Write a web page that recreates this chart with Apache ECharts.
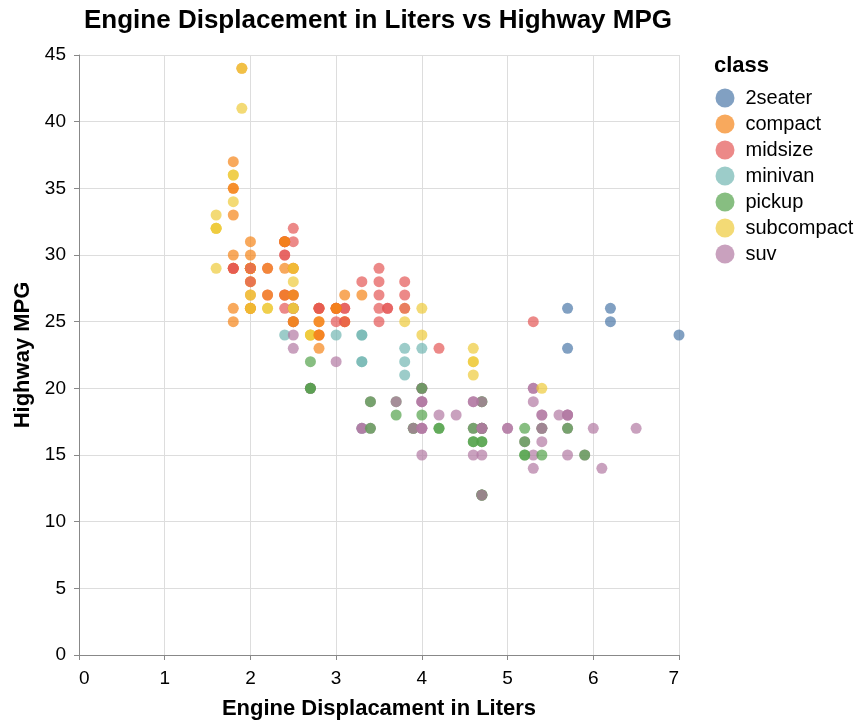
<!DOCTYPE html>
<html>
<head>
<meta charset="utf-8">
<script src="https://cdn.jsdelivr.net/npm/echarts@6.0.0/dist/echarts.min.js"></script>
<style>
	html, body { margin: 0; padding: 0; background: #fff; }
	#chart { width: 864px; height: 728px; }
</style>
</head>
<body>
<div id="chart"></div>
<script>
let classNames = ["2seater", "compact", "midsize", "minivan", "pickup", "subcompact", "suv"];
let classColors = ["#4c78a8", "#f58518", "#e45756", "#72b7b2", "#54a24b", "#eeca3b", "#b279a2"];

// one entry per car, in data order (class = index into classNames)
let displ = [
	1.8, 1.8, 2.0, 2.0, 2.8, 2.8, 3.1, 1.8, 1.8, 2.0, 2.0, 2.8, 2.8, 3.1, 3.1,
	2.8, 3.1, 4.2,
	5.3, 5.3, 5.3, 5.7, 6.0,
	5.7, 5.7, 6.2, 6.2, 7.0,
	5.3, 5.3, 5.7, 6.5,
	2.4, 2.4, 3.1, 3.5, 3.6,
	2.4, 3.0, 3.3, 3.3, 3.3, 3.3, 3.3, 3.8, 3.8, 3.8, 4.0,
	3.7, 3.7, 3.9, 3.9, 4.7, 4.7, 4.7, 5.2, 5.2,
	3.9, 4.7, 4.7, 4.7, 5.2, 5.7, 5.9,
	4.7, 4.7, 4.7, 4.7, 4.7, 4.7, 5.2, 5.2, 5.7, 5.9,
	4.6, 5.4, 5.4, 4.0, 4.0, 4.0, 4.0, 4.6, 5.0,
	4.2, 4.2, 4.6, 4.6, 4.6, 5.4, 5.4,
	3.8, 3.8, 4.0, 4.0, 4.6, 4.6, 4.6, 4.6, 5.4, 1.6, 1.6, 1.6, 1.6, 1.6, 1.8, 1.8, 1.8, 2.0,
	2.4, 2.4, 2.4, 2.4, 2.5, 2.5, 3.3,
	2.0, 2.0, 2.0, 2.0, 2.7, 2.7, 2.7,
	3.0, 3.7, 4.0, 4.7, 4.7, 4.7, 5.7, 6.1, 4.0, 4.2, 4.4, 4.6, 5.4, 5.4, 5.4, 4.0, 4.0, 4.6, 5.0,
	2.4, 2.4,
	2.5, 2.5, 3.5, 3.5, 3.0, 3.0, 3.5,
	3.3, 3.3, 4.0, 5.6,
	3.1, 3.8, 3.8, 3.8, 5.3,
	2.5, 2.5, 2.5, 2.5, 2.5, 2.5,
	2.2, 2.2, 2.5, 2.5,
	2.5, 2.5, 2.5, 2.5,
	2.7, 2.7, 3.4, 3.4, 4.0, 4.7,
	2.2, 2.2, 2.4, 2.4, 3.0, 3.0, 3.5,
	2.2, 2.2, 2.4, 2.4, 3.0, 3.0, 3.3, 1.8, 1.8, 1.8, 1.8, 1.8,
	4.7, 5.7,
	2.7, 2.7, 2.7, 3.4, 3.4, 4.0, 4.0,
	2.0, 2.0, 2.0, 2.0, 2.8, 1.9, 2.0, 2.0, 2.0, 2.0, 2.5, 2.5, 2.8, 2.8,
	1.9, 1.9, 2.0, 2.0, 2.5, 2.5,
	1.8, 1.8, 2.0, 2.0, 2.8, 2.8, 3.6,
];
let hwy = [
	29, 29, 31, 30, 26, 26, 27, 26, 25, 28, 27, 25, 25, 25, 25,
	24, 25, 23,
	20, 15, 20, 17, 17,
	26, 23, 26, 25, 24,
	19, 14, 15, 17,
	27, 30, 26, 29, 26,
	24, 24, 22, 22, 24, 24, 17, 22, 21, 23, 23,
	19, 18, 17, 17, 19, 19, 12, 17, 15,
	17, 17, 12, 17, 16, 18, 15,
	16, 12, 17, 17, 16, 12, 15, 16, 17, 15,
	17, 17, 18, 17, 19, 17, 19, 19, 17,
	17, 17, 16, 16, 17, 15, 17,
	26, 25, 26, 24, 21, 22, 23, 22, 20, 33, 32, 32, 29, 32, 34, 36, 36, 29,
	26, 27, 30, 31, 26, 26, 28,
	26, 29, 28, 27, 24, 24, 24,
	22, 19, 20, 17, 12, 19, 18, 14, 15, 18, 18, 15, 17, 16, 18, 17, 19, 19, 17,
	29, 27,
	31, 32, 27, 26, 26, 25, 25,
	17, 17, 20, 18,
	26, 26, 27, 28, 25,
	25, 24, 27, 25, 26, 23,
	26, 26, 26, 26,
	25, 27, 25, 27,
	20, 20, 19, 17, 20, 17,
	29, 27, 31, 31, 26, 26, 28,
	27, 29, 31, 31, 26, 26, 27, 30, 33, 35, 37, 35,
	15, 18,
	20, 20, 22, 17, 19, 18, 20,
	29, 26, 29, 29, 24, 44, 29, 26, 29, 29, 29, 29, 23, 24,
	44, 41, 29, 26, 28, 29,
	29, 29, 28, 29, 26, 26, 26,
];
let carClass = [
	1, 1, 1, 1, 1, 1, 1, 1, 1, 1, 1, 1, 1, 1, 1,
	2, 2, 2,
	6, 6, 6, 6, 6,
	0, 0, 0, 0, 0,
	6, 6, 6, 6,
	2, 2, 2, 2, 2,
	3, 3, 3, 3, 3, 3, 3, 3, 3, 3, 3,
	4, 4, 4, 4, 4, 4, 4, 4, 4,
	6, 6, 6, 6, 6, 6, 6,
	4, 4, 4, 4, 4, 4, 4, 4, 4, 4,
	6, 6, 6, 6, 6, 6, 6, 6, 6,
	4, 4, 4, 4, 4, 4, 4,
	5, 5, 5, 5, 5, 5, 5, 5, 5, 5, 5, 5, 5, 5, 5, 5, 5, 5,
	2, 2, 2, 2, 2, 2, 2,
	5, 5, 5, 5, 5, 5, 5,
	6, 6, 6, 6, 6, 6, 6, 6, 6, 6, 6, 6, 6, 6, 6, 6, 6, 6, 6,
	1, 1,
	2, 2, 2, 2, 2, 2, 2,
	6, 6, 6, 6,
	2, 2, 2, 2, 2,
	6, 6, 6, 6, 6, 6,
	5, 5, 5, 5,
	1, 1, 1, 1,
	6, 6, 6, 6, 6, 6,
	2, 2, 2, 2, 2, 2, 2,
	1, 1, 1, 1, 1, 1, 1, 1, 1, 1, 1, 1,
	6, 6,
	4, 4, 4, 4, 4, 4, 4,
	1, 1, 1, 1, 1, 1, 1, 1, 1, 1, 1, 1, 1, 1,
	5, 5, 5, 5, 5, 5,
	2, 2, 2, 2, 2, 2, 2,
];

let echarts = window.echarts;
let myChart = echarts.init(document.getElementById("chart"));
let font = "'Liberation Sans', Arial, sans-serif";

let points = displ.map((d, i) => [d, hwy[i], carClass[i]]);

// empty series only to give the legend its entries
let legendSeries = classNames.map((name, i) => {
	return {
		name: name,
		type: "scatter",
		data: [],
		itemStyle: { color: classColors[i], opacity: 0.7 },
	};
});

let option = {
	animation: false,
	textStyle: { fontFamily: font },
	title: {
		text: "Engine Displacement in Liters vs Highway MPG",
		left: 373,
		top: 3,
		textAlign: "center",
		textStyle: { fontSize: 26, fontWeight: "bold", color: "#000", fontFamily: font },
	},
	grid: {
		left: 79,
		right: 185,
		top: 55,
		bottom: 73,
		outerBoundsMode: "none",
		containLabel: false,
	},
	legend: {
		orient: "vertical",
		left: 715.5,
		top: 88,
		padding: 0,
		icon: "circle",
		itemWidth: 19,
		itemHeight: 19,
		itemGap: 6,
		data: classNames,
		textStyle: { fontSize: 20, color: "#000", fontFamily: font, padding: [0, 0, 0, 6] },
	},
	graphic: [
		{
			type: "text",
			left: 714,
			top: 55,
			style: { text: "class", fontSize: 22, fontWeight: "bold", fill: "#000", fontFamily: font },
		},
	],
	xAxis: {
		type: "value",
		min: 0,
		max: 7,
		interval: 1,
		name: "Engine Displacament in Liters",
		nameLocation: "middle",
		nameGap: 43,
		nameTextStyle: { fontSize: 22, fontWeight: "bold", color: "#000", fontFamily: font },
		axisLine: { show: true, lineStyle: { color: "#888" } },
		axisTick: { show: true, length: 5, lineStyle: { color: "#888" } },
		axisLabel: {
			fontSize: 19,
			color: "#000",
			margin: 14,
			alignMinLabel: "left",
			alignMaxLabel: "right",
		},
		splitLine: { show: true, lineStyle: { color: "#ddd" } },
	},
	yAxis: {
		type: "value",
		min: 0,
		max: 45,
		interval: 5,
		name: "Highway MPG",
		nameLocation: "middle",
		nameGap: 40,
		nameTextStyle: { fontSize: 22, fontWeight: "bold", color: "#000", fontFamily: font },
		axisLine: { show: true, lineStyle: { color: "#888" } },
		axisTick: { show: true, length: 5, lineStyle: { color: "#888" } },
		axisLabel: { fontSize: 19, color: "#000", margin: 13 },
		splitLine: { show: true, lineStyle: { color: "#ddd" } },
	},
	series: [
		{
			name: "cars",
			type: "scatter",
			symbolSize: 11,
			data: points,
			itemStyle: {
				opacity: 0.7,
				color: (p) => classColors[p.data[2]],
			},
		},
	].concat(legendSeries),
};

myChart.setOption(option);
</script>
</body>
</html>
